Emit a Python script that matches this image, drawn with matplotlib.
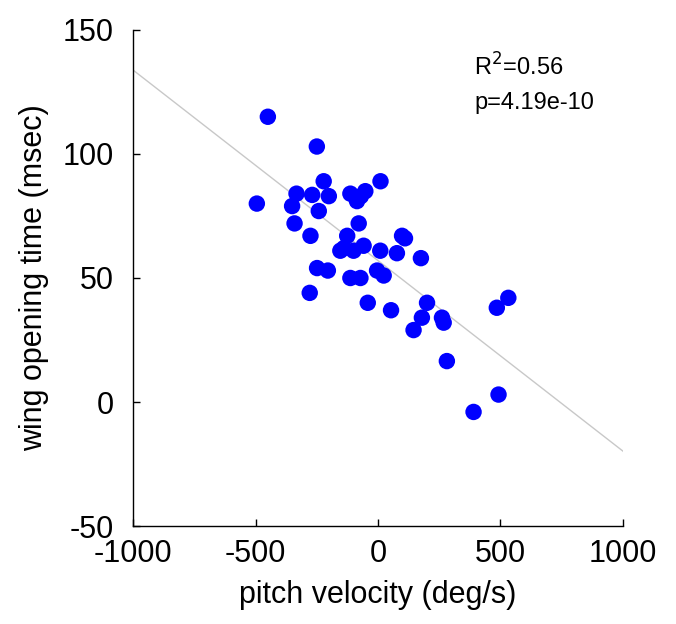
import matplotlib
matplotlib.use('Agg')
import matplotlib.pyplot as plt
import numpy as np

plt.rcParams['font.family'] = ['Liberation Sans', 'DejaVu Sans']
plt.rcParams['axes.unicode_minus'] = False

# pitch velocity (deg/s) vs wing opening time (msec)
pitch_vel = [-450, -250, 10, -222, -495, -333, -351, -341, -276, -269, -201, -242,
             -113, -52, -86, -70, -79, 98, 110, 175, -126, -140, -59, 9, 77, -100,
             -113, -72, -4, 23, -42, 53, 200, 179, 145, -249, -205, -279, -154,
             261, 268, 281, 485, 532, 492, 390]
wing_open = [115, 103, 89, 89, 80, 84, 79, 72, 67, 83.5, 83, 77,
             84, 85, 81, 83, 72, 67, 66, 58, 67, 62, 63, 61, 60, 61,
             50, 50, 53, 51, 40, 37, 40, 34, 29, 54, 53, 44, 61,
             34, 32, 16.5, 38, 42, 3, -4]

# regression line
fit_slope = -0.0768
fit_intercept = 57.0
fit_x = np.array([-1000, 1000])

fig = plt.figure(figsize=(6.76, 6.24), dpi=100)
ax = fig.add_axes([0.197, 0.157, 0.7245, 0.795])

ax.plot(fit_x, fit_slope * fit_x + fit_intercept, color='#c8c8c8', linewidth=1, zorder=1)
ax.scatter(pitch_vel, wing_open, s=140, color='#0000ff', edgecolors='none', zorder=2)

ax.set_xlim(-1000, 1000)
ax.set_ylim(-50, 150)
ax.set_xticks([-1000, -500, 0, 500, 1000])
ax.set_yticks([-50, 0, 50, 100, 150])

# только левая и нижняя оси
ax.spines['top'].set_visible(False)
ax.spines['right'].set_visible(False)
ax.spines['left'].set_linewidth(1)
ax.spines['bottom'].set_linewidth(1)
ax.tick_params(direction='in', length=5, width=1, labelsize=22)
ax.tick_params(axis='x', pad=9)
ax.tick_params(axis='y', pad=14)

ax.set_xlabel('pitch velocity (deg/s)', fontsize=22, labelpad=8)
ax.set_ylabel('wing opening time (msec)', fontsize=22, labelpad=10)

ax.text(393, 135, 'R$^2$=0.56', fontsize=17, va='center', ha='left')
ax.text(393, 120.5, 'p=4.19e-10', fontsize=17, va='center', ha='left')

plt.savefig('out.png', dpi=100)
plt.close()
